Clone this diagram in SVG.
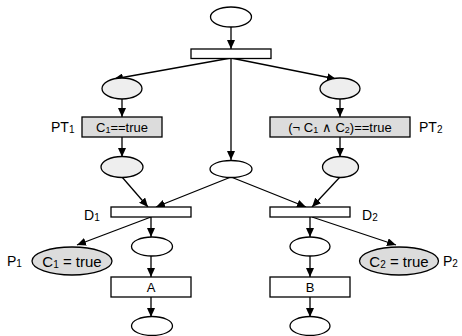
<svg xmlns="http://www.w3.org/2000/svg" width="462" height="336" viewBox="0 0 462 336">
<defs>
<marker id="ah" markerUnits="userSpaceOnUse" markerWidth="9" markerHeight="8" refX="9" refY="4" orient="auto">
<path d="M0,0 L9,4 L0,8 z" fill="#000"/>
</marker>
<style>
.n{stroke:#000;stroke-width:1.3}
.w{fill:#fff}
.g{fill:#eeeeee}
.d{fill:#dcdcdc}
.c line{stroke:#000;stroke-width:1.3;marker-end:url(#ah)}
text{font-family:"Liberation Sans",Arial,sans-serif;fill:#000}
.t{font-size:13px;text-anchor:middle}
.e{font-size:15px;text-anchor:middle}
.l{font-size:14px}
</style>
</defs>
<rect width="462" height="336" fill="#fff"/>
<g class="c" id="connectors">
<line x1="231" y1="27" x2="231" y2="49"/>
<line x1="231" y1="58" x2="114" y2="79"/>
<line x1="231" y1="58" x2="231" y2="160"/>
<line x1="231" y1="58" x2="336" y2="79"/>
<line x1="122" y1="99" x2="122" y2="117"/>
<line x1="122" y1="137" x2="122" y2="157"/>
<line x1="340" y1="99" x2="340" y2="117"/>
<line x1="340" y1="137" x2="340" y2="157"/>
<line x1="122" y1="177" x2="148" y2="207"/>
<line x1="231" y1="177" x2="156" y2="207"/>
<line x1="231" y1="177" x2="306" y2="207"/>
<line x1="340" y1="177" x2="312" y2="207"/>
<line x1="151" y1="217" x2="151" y2="237"/>
<line x1="151" y1="217" x2="77" y2="245"/>
<line x1="310" y1="217" x2="310" y2="237"/>
<line x1="312" y1="217" x2="396" y2="245"/>
<line x1="151" y1="256" x2="151" y2="277"/>
<line x1="151" y1="297" x2="151" y2="317"/>
<line x1="310" y1="256" x2="310" y2="277"/>
<line x1="310" y1="297" x2="310" y2="317"/>
</g>
<g id="start"><ellipse class="n w" cx="231" cy="17" rx="20.5" ry="10"/></g>
<g id="fork"><rect class="n w" x="191" y="49" width="80" height="9.5"/></g>
<g id="pl1"><ellipse class="n g" cx="122" cy="88.5" rx="20" ry="10.5"/></g>
<g id="pr1"><ellipse class="n g" cx="340" cy="88.5" rx="20" ry="10.5"/></g>
<g id="pc"><ellipse class="n w" cx="231" cy="169" rx="21" ry="8.5"/></g>
<g id="PT1"><rect class="n d" x="82" y="117" width="80" height="20"/>
<text class="t" x="122" y="132">C<tspan font-size="9" dy="1">1</tspan><tspan dy="-1">==true</tspan></text>
<text class="l" x="51" y="132">PT<tspan font-size="10" dy="1">1</tspan></text></g>
<g id="PT2"><rect class="n d" x="270" y="117" width="140" height="20"/>
<text class="t" x="340" y="132">(¬ C<tspan font-size="9" dy="1">1</tspan><tspan dy="-1"> ∧ C</tspan><tspan font-size="9" dy="1">2</tspan><tspan dy="-1">)==true</tspan></text>
<text class="l" x="419" y="132">PT<tspan font-size="10" dy="1">2</tspan></text></g>
<g id="pl2"><ellipse class="n g" cx="122" cy="167" rx="21" ry="10.5"/></g>
<g id="pr2"><ellipse class="n g" cx="340.5" cy="167" rx="18" ry="10.5"/></g>
<g id="D1"><rect class="n w" x="111" y="207" width="80" height="10"/>
<text class="l" x="84" y="220">D<tspan font-size="10" dy="1">1</tspan></text></g>
<g id="D2"><rect class="n w" x="270" y="207" width="80" height="10"/>
<text class="l" x="362" y="220">D<tspan font-size="10" dy="1">2</tspan></text></g>
<g id="pa1"><ellipse class="n w" cx="152" cy="246.5" rx="20.5" ry="9.5"/></g>
<g id="pb1"><ellipse class="n w" cx="310" cy="246.5" rx="20" ry="9.5"/></g>
<g id="P1"><ellipse class="n d" cx="72" cy="261" rx="40" ry="14"/>
<text class="e" x="72" y="266.5">C<tspan font-size="10" dy="1">1</tspan><tspan dy="-1"> = true</tspan></text>
<text class="l" x="7" y="266">P<tspan font-size="10" dy="1">1</tspan></text></g>
<g id="P2"><ellipse class="n d" cx="399" cy="261" rx="39.5" ry="14"/>
<text class="e" x="399" y="266.5">C<tspan font-size="10" dy="1">2</tspan><tspan dy="-1"> = true</tspan></text>
<text class="l" x="443" y="266">P<tspan font-size="10" dy="1">2</tspan></text></g>
<g id="A"><rect class="n w" x="111" y="277" width="80" height="20"/>
<text class="t" x="151" y="292">A</text></g>
<g id="B"><rect class="n w" x="270" y="277" width="80" height="20"/>
<text class="t" x="310" y="292">B</text></g>
<g id="pa2"><ellipse class="n w" cx="152" cy="326" rx="20.5" ry="9.5"/></g>
<g id="pb2"><ellipse class="n w" cx="310" cy="326" rx="20" ry="9.5"/></g>
</svg>
